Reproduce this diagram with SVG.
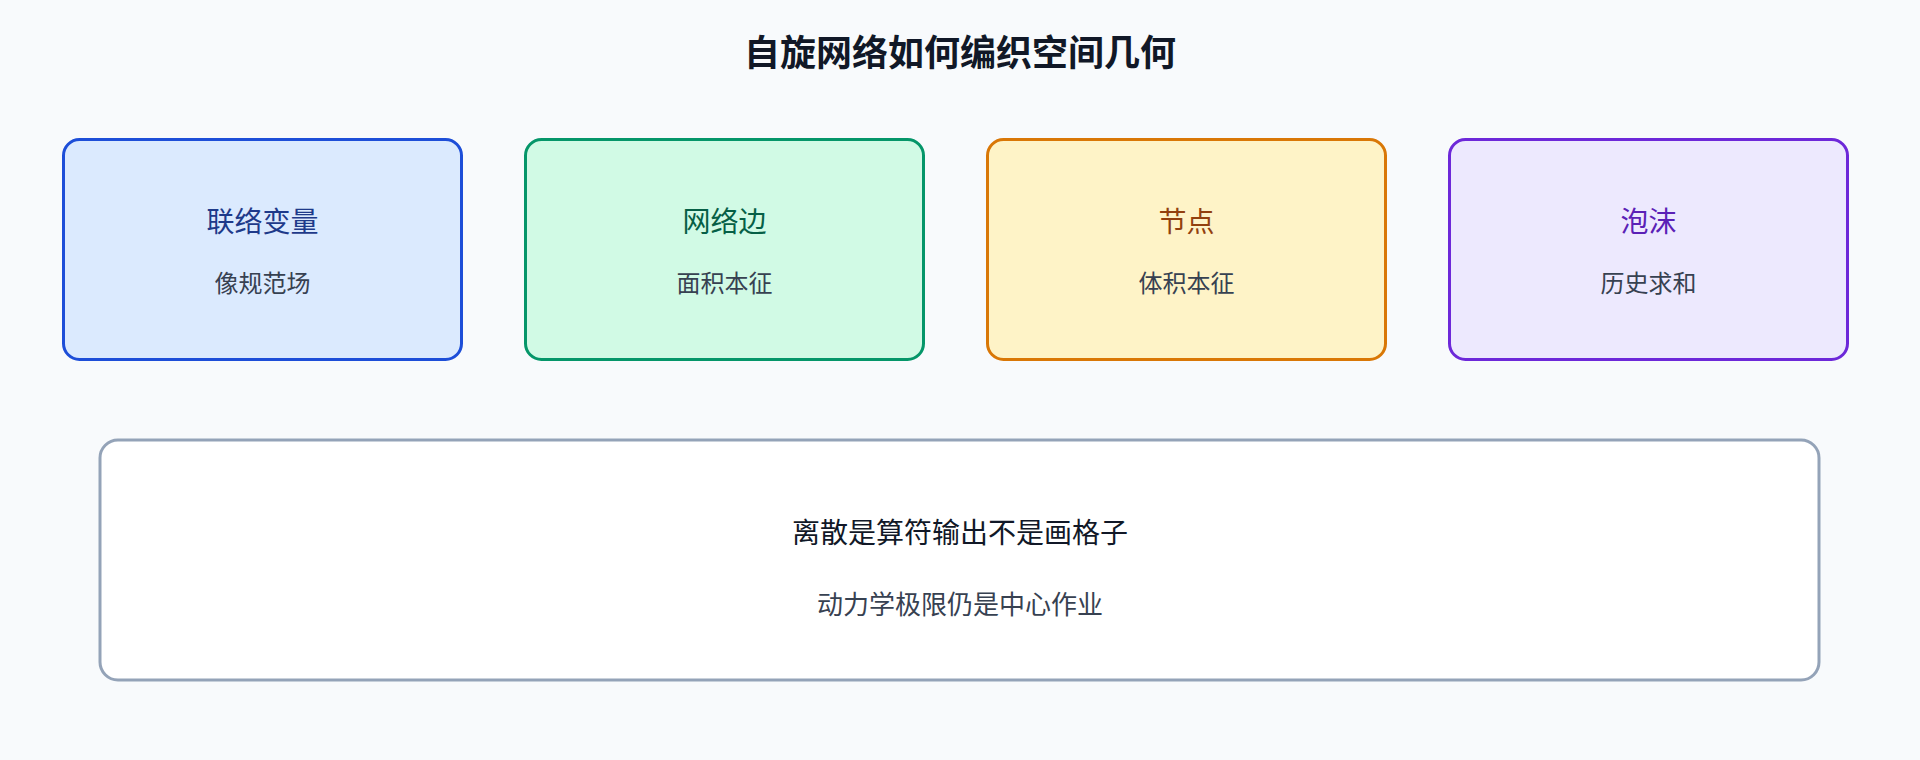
<svg xmlns="http://www.w3.org/2000/svg" width="1920" height="760" viewBox="0 0 1920 760">
  <style>
    text { font-family: "Noto Sans CJK SC", "Noto Sans", sans-serif; text-anchor: middle; dominant-baseline: central; }
    .title { font-size: 36px; font-weight: 700; fill: #111827; }
    .card { stroke-width: 3; }
    .head { font-size: 28px; }
    .sub { font-size: 24px; fill: #374151; }
    .ftitle { font-size: 28px; fill: #111827; }
    .fsub { font-size: 26px; fill: #374151; }
  </style>
  <rect x="0" y="0" width="1920" height="760" fill="#f8fafc"/>
  <text class="title" x="960" y="50">自旋网络如何编织空间几何</text>
  <g id="connectors"></g>
  <g id="node-lianluo">
    <rect class="card" x="63.5" y="139.5" width="398" height="220" rx="16" fill="#dbeafe" stroke="#1d4ed8"/>
    <text class="head" x="262.5" y="220" fill="#1e3a8a">联络变量</text>
    <text class="sub" x="262.5" y="281">像规范场</text>
  </g>
  <g id="node-edge">
    <rect class="card" x="525.5" y="139.5" width="398" height="220" rx="16" fill="#d1fae5" stroke="#059669"/>
    <text class="head" x="724.5" y="220" fill="#065f46">网络边</text>
    <text class="sub" x="724.5" y="281">面积本征</text>
  </g>
  <g id="node-vertex">
    <rect class="card" x="987.5" y="139.5" width="398" height="220" rx="16" fill="#fef3c7" stroke="#d97706"/>
    <text class="head" x="1186.5" y="220" fill="#92400e">节点</text>
    <text class="sub" x="1186.5" y="281">体积本征</text>
  </g>
  <g id="node-foam">
    <rect class="card" x="1449.5" y="139.5" width="398" height="220" rx="16" fill="#ede9fe" stroke="#6d28d9"/>
    <text class="head" x="1648.5" y="220" fill="#5b21b6">泡沫</text>
    <text class="sub" x="1648.5" y="281">历史求和</text>
  </g>
  <g id="node-summary">
    <rect class="card" x="100" y="440" width="1719" height="240" rx="18" fill="#ffffff" stroke="#94a3b8"/>
    <text class="ftitle" x="960" y="531">离散是算符输出不是画格子</text>
    <text class="fsub" x="960" y="602">动力学极限仍是中心作业</text>
  </g>
</svg>
